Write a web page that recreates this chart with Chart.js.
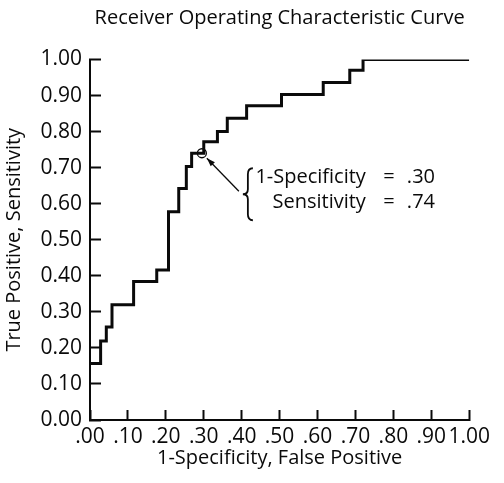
<!DOCTYPE html>
<html>
<head>
<meta charset="utf-8">
<script src="https://cdn.jsdelivr.net/npm/chart.js@4.4.1/dist/chart.umd.min.js"></script>
<style>
  html, body { margin: 0; padding: 0; background: #fff; }
  #wrap { width: 504px; height: 483px; }
</style>
</head>
<body>
<div id="wrap"><canvas id="rocChart" width="504" height="483"></canvas></div>
<script>
// corners of the ROC step curve (1-specificity, sensitivity)
const fpr = [0.000, 0.028, 0.043, 0.058, 0.115, 0.176, 0.207, 0.234, 0.254, 0.268, 0.300, 0.336, 0.362, 0.413, 0.505, 0.615, 0.685, 0.720, 1.000];
const tpr = [0.157, 0.219, 0.258, 0.320, 0.384, 0.416, 0.578, 0.642, 0.703, 0.740, 0.772, 0.800, 0.837, 0.872, 0.903, 0.936, 0.970, 1.000, 1.000];

// the marked cut-off
const markFpr = [0.295];
const markTpr = [0.74];
const markText = [['1-Specificity', '.30'], ['Sensitivity', '.74']];

const xTickLabels = ['.00', '.10', '.20', '.30', '.40', '.50', '.60', '.70', '.80', '.90', '1.00'];
const yTickLabels = ['0.00', '0.10', '0.20', '0.30', '0.40', '0.50', '0.60', '0.70', '0.80', '0.90', '1.00'];

const chartTitle = 'Receiver Operating Characteristic Curve';

const FONT = '"Open Sans", "DejaVu Sans", sans-serif';
const INK = '#0a0a0a';

const curvePoints = fpr.map((x, i) => ({x: x, y: tpr[i]}));
const markPoints = markFpr.map((x, i) => ({x: x, y: markTpr[i]}));

// title centred over the plot area
const titleOverPlot = {
    id: 'titleOverPlot',
    afterDraw(chart) {
        const ctx = chart.ctx;
        const area = chart.chartArea;
        ctx.save();
        ctx.fillStyle = INK;
        ctx.font = '20px ' + FONT;
        ctx.textAlign = 'center';
        ctx.textBaseline = 'middle';
        ctx.fillText(chartTitle, (area.left + area.right) / 2, 18);
        ctx.restore();
    }
};

// callout: arrow, brace and the two lines of text next to the marked point
const callout = {
    id: 'callout',
    afterDraw(chart) {
        const ctx = chart.ctx;
        const cx = chart.scales.x.getPixelForValue(markFpr[0]);
        const cy = chart.scales.y.getPixelForValue(markTpr[0]);
        ctx.save();
        ctx.strokeStyle = INK;
        ctx.fillStyle = INK;

        // arrow
        const ax0 = cx + 37, ay0 = cy + 38;
        const ax1 = cx + 5, ay1 = cy + 5;
        ctx.lineWidth = 1.3;
        ctx.beginPath();
        ctx.moveTo(ax0, ay0);
        ctx.lineTo(ax1, ay1);
        ctx.stroke();
        const ang = Math.atan2(ay1 - ay0, ax1 - ax0);
        ctx.beginPath();
        ctx.moveTo(ax1, ay1);
        ctx.lineTo(ax1 - 9 * Math.cos(ang - 0.33), ay1 - 9 * Math.sin(ang - 0.33));
        ctx.lineTo(ax1 - 9 * Math.cos(ang + 0.33), ay1 - 9 * Math.sin(ang + 0.33));
        ctx.closePath();
        ctx.fill();

        // brace
        const bx = cx + 46, top = cy + 15, bot = cy + 67, mid = (top + bot) / 2;
        ctx.lineWidth = 1.8;
        ctx.beginPath();
        ctx.moveTo(bx + 5, top);
        ctx.quadraticCurveTo(bx, top, bx, top + 6);
        ctx.lineTo(bx, mid - 5);
        ctx.quadraticCurveTo(bx, mid, bx - 5, mid);
        ctx.quadraticCurveTo(bx, mid, bx, mid + 5);
        ctx.lineTo(bx, bot - 6);
        ctx.quadraticCurveTo(bx, bot, bx + 5, bot);
        ctx.stroke();

        // text
        ctx.font = '20px ' + FONT;
        ctx.textBaseline = 'alphabetic';
        markText.forEach((row, i) => {
            const by = cy + 30 + i * 25;
            ctx.textAlign = 'right';
            ctx.fillText(row[0], cx + 164, by);
            ctx.textAlign = 'center';
            ctx.fillText('=', cx + 187, by);
            ctx.textAlign = 'left';
            ctx.fillText(row[1], cx + 205, by);
        });
        ctx.restore();
    }
};

new Chart(document.getElementById('rocChart'), {
    type: 'scatter',
    data: {
        datasets: [{
            data: curvePoints,
            showLine: true,
            stepped: 'before',
            borderColor: INK,
            borderWidth: 3,
            pointRadius: 0,
            fill: false
        }, {
            data: markPoints,
            pointRadius: 4.5,
            pointBorderWidth: 1.3,
            pointBackgroundColor: '#fff',
            pointBorderColor: INK
        }]
    },
    plugins: [titleOverPlot, callout],
    options: {
        responsive: false,
        animation: false,
        layout: {padding: {left: 0, right: 22, top: 59.5, bottom: 0}},
        plugins: {
            legend: {display: false},
            tooltip: {enabled: false},
            title: {display: false}
        },
        scales: {
            x: {
                type: 'linear',
                min: 0,
                max: 1,
                afterFit(scale) { scale.height = 63; },
                // negative tick length turns the tick marks into the plot
                grid: {display: true, drawOnChartArea: false, drawTicks: true, tickLength: -10, tickColor: INK, tickWidth: 2},
                border: {display: true, color: INK, width: 2},
                ticks: {
                    stepSize: 0.1,
                    padding: 14,
                    color: INK,
                    maxRotation: 0,
                    autoSkip: false,
                    font: {family: FONT, size: 21},
                    callback: (v, i) => xTickLabels[i]
                },
                title: {
                    display: true,
                    text: '1-Specificity, False Positive',
                    color: INK,
                    font: {family: FONT, size: 20},
                    padding: {top: 0, bottom: 13}
                }
            },
            y: {
                type: 'linear',
                min: 0,
                max: 1,
                afterFit(scale) { scale.width = 90; },
                grid: {display: true, drawOnChartArea: false, drawTicks: true, tickLength: -11, tickColor: INK, tickWidth: 2},
                border: {display: true, color: INK, width: 2},
                ticks: {
                    stepSize: 0.1,
                    padding: 19,
                    color: INK,
                    autoSkip: false,
                    font: {family: FONT, size: 21},
                    callback: (v, i) => yTickLabels[i]
                },
                title: {
                    display: true,
                    text: 'True Positive, Sensitivity',
                    color: INK,
                    font: {family: FONT, size: 20},
                    padding: {top: 2, bottom: 0}
                }
            }
        }
    }
});
</script>
</body>
</html>
